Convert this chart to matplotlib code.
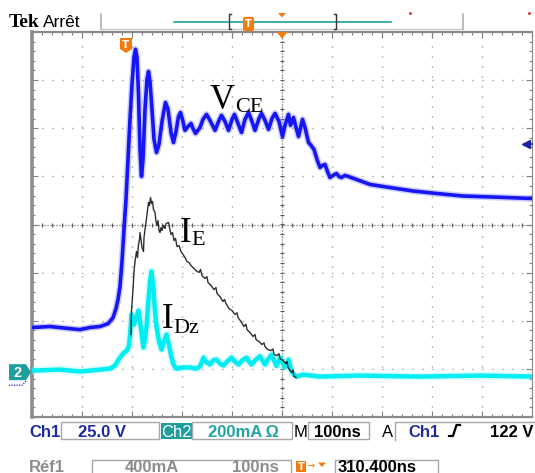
import matplotlib

matplotlib.use("Agg")
import matplotlib.pyplot as plt  # noqa: E402
import numpy as np  # noqa: E402
from matplotlib.patches import Polygon, Rectangle  # noqa: E402

# scope settings
NS_PER_DIV = 100.0
CH1_V_PER_DIV = 25.0
CH2_MA_PER_DIV = 200.0
REF1_MA_PER_DIV = 400.0
CH1_GND_DIV = -3.2      # ch1 ground marker sits under the "2" marker
CH2_GND_DIV = -3.06
TRIG_LEVEL_V = 122.0

# Ch1 : V_CE (V)
vce_t = [0, 36, 76, 96, 116, 136, 152, 162, 168, 172, 176, 180, 184, 188, 192, 196, 200, 204,
         207, 210, 213, 216, 219, 222, 226, 230, 233, 236, 240, 244, 249, 254, 260, 267, 272, 278,
         283, 288, 293, 297, 302, 306, 312, 318, 322, 327, 336, 342, 349, 356, 366, 374, 379, 386,
         393, 400, 405, 412, 419, 426, 433, 440, 446, 454, 459, 466, 473, 480, 486, 494, 501, 506,
         513, 517, 523, 526, 533, 541, 546, 553, 558, 564, 570, 576, 581, 586, 591, 596, 602, 609,
         614, 619, 626, 633, 649, 676, 716, 762, 810, 862, 930, 1000]
vce_v = [26.5, 27.0, 25.9, 25.4, 26.5, 27.0, 28.5, 31.6, 36.3, 41.0, 47.8, 60.8, 77.4, 93.0, 113.8,
         134.6, 152.8, 166.8, 171.0, 166.8, 147.6, 119.0, 105.0, 113.8, 139.8, 155.4, 159.5, 154.3,
         139.8, 124.2, 117.4, 121.6, 133.5, 143.4, 139.8, 127.8, 122.6, 128.3, 136.1, 138.2, 133.5,
         128.9, 130.9, 132.5, 129.9, 127.3, 130.4, 134.6, 137.2, 134.1, 128.9, 134.1, 136.7, 133.5,
         128.9, 134.6, 137.2, 132.5, 127.8, 134.6, 138.2, 133.5, 128.9, 135.1, 137.7, 134.1, 129.4,
         135.1, 137.7, 133.5, 125.7, 131.5, 137.2, 131.5, 135.6, 132.5, 125.7, 134.6, 130.4, 122.6,
         121.1, 119.0, 113.8, 109.6, 110.7, 111.2, 107.5, 104.4, 105.5, 106.5, 104.9, 104.4, 105.5,
         104.9, 103.4, 100.8, 99.2, 97.4, 96.1, 94.8, 94.2, 93.5]

# Ch2 : I_Dz (mA)
idz_t = [0, 56, 96, 136, 156, 166, 176, 184, 190, 194, 197, 199, 202, 204, 208, 213, 216, 223, 226,
         229, 233, 236, 239, 243, 246, 249, 254, 259, 264, 269, 274, 278, 283, 289, 302, 316, 328,
         336, 343, 348, 356, 362, 369, 376, 383, 390, 399, 406, 413, 420, 429, 434, 439, 446, 456,
         461, 466, 472, 479, 484, 489, 493, 496, 501, 506, 509, 513, 516, 519, 524, 529, 542, 576,
         656, 776, 896, 1000]
idz_ma = [5, 9, 1, 9, 13, 26, 59, 80, 88, 109, 176, 238, 217, 196, 225, 254, 209, 101, 134, 188,
          300, 375, 417, 342, 250, 188, 126, 92, 126, 155, 113, 67, 30, 13, 18, 18, 13, 22, 59, 42,
          30, 47, 51, 34, 26, 42, 59, 42, 30, 47, 59, 42, 30, 47, 65, 47, 30, 51, 71, 47, 24, 42,
          59, 38, 18, 34, 51, 26, 2, -12, -20, -12, -20, -16, -20, -16, -20]

# Ref1 : I_E (mA)
ie_t = [198, 199, 202, 204, 206, 209, 211, 213, 215, 216, 218, 220, 223, 224, 226, 228, 230, 233,
        235, 237, 239, 241, 243, 246, 248, 250, 252, 254, 256, 258, 260, 263, 266, 268, 273, 275,
        278, 281, 284, 287, 290, 294, 298, 302, 306, 310, 314, 318, 322, 328, 334, 337, 340, 346,
        350, 352, 358, 364, 368, 370, 376, 382, 385, 388, 394, 400, 406, 410, 412, 418, 424, 428,
        430, 436, 442, 446, 448, 454, 460, 464, 466, 472, 478, 482, 484, 490, 494, 496, 502, 508,
        510, 512, 516, 520, 522, 524, 528]
ie_ma = [309, 509, 683, 833, 916, 999, 950, 1058, 1099, 1157, 1099, 1033, 999, 1116, 1182, 1241,
         1307, 1407, 1382, 1449, 1399, 1415, 1349, 1324, 1249, 1216, 1257, 1174, 1157, 1199, 1174,
         1216, 1191, 1232, 1241, 1199, 1141, 1157, 1091, 1108, 1041, 1049, 999, 975, 950, 916, 908,
         883, 866, 841, 825, 850, 800, 775, 790, 742, 717, 683, 700, 650, 625, 584, 600, 567, 525,
         509, 476, 490, 451, 417, 376, 395, 351, 326, 293, 310, 268, 251, 226, 240, 209, 184, 176,
         190, 143, 135, 150, 110, 93, 68, 85, 35, 10, -7, 15, -40, -48]

W, H = 535, 473
PX_PER_DIV_Y = 48.1
BLUE, CYAN, TEAL, ORANGE = "#1616f4", "#00eef2", "#1f9e9e", "#f07c10"


def to_div(vals, per_div, gnd):
    return np.asarray(vals, dtype=float) / per_div + gnd


def trace(ax, t, y, core, halo, lw, extra, z):
    ax.plot(t, y, color=halo, lw=lw + extra, alpha=0.35, solid_joinstyle="round", zorder=z)
    ax.plot(t, y, color=core, lw=lw, solid_joinstyle="round", zorder=z + 0.1)


fig = plt.figure(figsize=(W / 100, H / 100), dpi=100)
ax = fig.add_axes([32 / W, (H - 417) / H, 500 / W, 385 / H])
ax.set_xlim(0, 10 * NS_PER_DIV)
ax.set_ylim(-4, 4)

# graticule
ax.set_xticks(np.arange(0, 1001, NS_PER_DIV))
ax.set_yticks(np.arange(-4, 5, 1))
ax.set_xticks(np.arange(0, 1001, NS_PER_DIV / 5), minor=True)
ax.set_yticks(np.arange(-4, 4.01, 0.2), minor=True)
ax.tick_params(which="both", direction="in", top=True, right=True, color="#808080",
               labelbottom=False, labelleft=False, width=0.8)
ax.tick_params(which="major", length=4)
ax.tick_params(which="minor", length=2.5)
ax.grid(True, which="major", color="#7a7a7a", lw=1.0, ls=(0, (0.7, 6.5)))
for side in ("top", "bottom"):
    ax.spines[side].set_color("#8a8a8a")
    ax.spines[side].set_linewidth(1.6)
ax.spines["left"].set_color("#8c8c8c")
ax.spines["left"].set_linewidth(2.6)
ax.spines["right"].set_color("#8a8a8a")
ax.spines["right"].set_linewidth(0.8)
ax.axhline(0, color="#555555", lw=0.9, ls=(0, (0.8, 1.6)), zorder=1)
ax.axvline(500, color="#555555", lw=0.9, ls=(0, (0.8, 1.6)), zorder=1)
mt = np.arange(0, 1001, NS_PER_DIV / 5)
mv = np.arange(-4, 4.01, 0.2)
ax.plot(mt, np.zeros_like(mt), ls="none", marker="|", ms=3.5, mew=0.8, color="#555555", zorder=1)
ax.plot(np.full_like(mv, 500), mv, ls="none", marker="_", ms=3.5, mew=0.8, color="#555555", zorder=1)

# traces
trace(ax, idz_t, to_div(idz_ma, CH2_MA_PER_DIV, CH2_GND_DIV), CYAN, "#8ffbff", 3.2, 2.4, 3)
ax.plot(ie_t, to_div(ie_ma, REF1_MA_PER_DIV, CH2_GND_DIV), color="#2e2e2e", lw=1.0, zorder=4)
trace(ax, vce_t, to_div(vce_v, CH1_V_PER_DIV, CH1_GND_DIV), BLUE, "#7070ff", 2.6, 2.2, 5)

# trigger level arrow (right edge)
trig = TRIG_LEVEL_V / CH1_V_PER_DIV + CH1_GND_DIV
ax.plot([985, 1000], [trig, trig], color="#1a22a0", lw=1.2, clip_on=False, zorder=6)
ax.plot([988], [trig], marker="<", ms=6, color="#1a22a0", clip_on=False, zorder=6)

# overlay in pixel coordinates for the scope's chrome
ov = fig.add_axes([0, 0, 1, 1], zorder=5)
ov.set_xlim(0, W)
ov.set_ylim(H, 0)
ov.axis("off")
ov.patch.set_alpha(0)

serif = "Liberation Serif"
sans = "Liberation Sans"
fs = 12

# curve labels
ov.text(210, 108.5, "V", family=serif, fontsize=25, va="baseline")
ov.text(235, 111.5, "CE", family=serif, fontsize=16, va="baseline")
ov.text(180, 241.5, "I", family=serif, fontsize=25, va="baseline")
ov.text(191.5, 245, "E", family=serif, fontsize=16, va="baseline")
ov.text(162, 328, "I", family=serif, fontsize=25, va="baseline")
ov.text(173.5, 332.5, "Dz", family=serif, fontsize=16, va="baseline")

# top status bar
ov.text(9, 27, "Tek", family=serif, fontsize=14, weight="bold", va="baseline")
ov.text(43, 27, "Arrêt", family=sans, fontsize=12.5, va="baseline")
ov.plot([101, 463], [29.5, 29.5], color="#c8c8c8", lw=1)
ov.plot([101, 101], [14, 29.5], color="#b0b0b0", lw=1.2)
ov.plot([463, 463], [14, 29.5], color="#b0b0b0", lw=1.2)
ov.plot([174, 391], [22, 22], color=TEAL, lw=1.2)
ov.plot([231, 229, 229, 231], [14.5, 14.5, 29, 29], color="#333333", lw=1)
ov.plot([334, 336, 336, 334], [14.5, 14.5, 29, 29], color="#333333", lw=1)
ov.text(248.5, 24, "T", color="white", fontsize=7, weight="bold", ha="center", va="center",
        bbox=dict(boxstyle="round,pad=0.15", fc=ORANGE, ec=ORANGE))
ov.add_patch(Polygon([(278, 13), (286, 13), (282, 17.5)], closed=True, fc=ORANGE, ec="none"))
ov.add_patch(Polygon([(276.5, 32), (287.5, 32), (282, 38.5)], closed=True, fc=ORANGE, ec="none"))
ov.plot([410, 529], [13, 13], ls="none", marker="s", ms=1, color="#e03030")

# trigger position marker on the graticule
ov.add_patch(Polygon([(120, 38), (132, 38), (132, 49), (126, 53), (120, 49)], closed=True,
                     fc=ORANGE, ec="none"))
ov.text(126, 45, "T", color="white", fontsize=7.5, weight="bold", ha="center", va="center")

# channel 2 ground marker
gnd2_px = 225 - CH2_GND_DIV * PX_PER_DIV_Y
ov.add_patch(Polygon([(9, gnd2_px - 8), (26, gnd2_px - 8), (31, gnd2_px), (26, gnd2_px + 8),
                      (9, gnd2_px + 8)], closed=True, fc=TEAL, ec="none"))
ov.text(17.5, gnd2_px + 0.5, "2", color="white", fontsize=10.5, weight="bold", ha="center",
        va="center", family=sans)
ov.plot([9, 22, 26], [gnd2_px + 13, gnd2_px + 13, gnd2_px + 9], color="#2030c0", lw=0.9,
        ls=(0, (1, 1)))

# bottom status line 1
box_ec = "#a8a8a8"
ov.text(29, 437, "Ch1", color="#1d2a9e", family=sans, weight="bold", fontsize=fs, va="baseline")
ov.add_patch(Rectangle((61, 422), 98, 17, fc="none", ec=box_ec, lw=1))
ov.text(78, 437, "25.0 V", color="#1d2a9e", family=sans, weight="bold", fontsize=fs,
        va="baseline")
ov.add_patch(Rectangle((160.5, 423), 31.5, 16, fc=TEAL, ec="none"))
ov.text(161.5, 437, "Ch2", color="white", family=sans, fontsize=fs, va="baseline")
ov.add_patch(Rectangle((192, 422), 100, 17, fc="none", ec=box_ec, lw=1))
ov.text(208, 437, "200mA\u2009Ω", color="#22a3a3", family=sans, weight="bold", fontsize=fs,
        va="baseline")
ov.text(294, 437, "M", color="black", family=sans, fontsize=fs, va="baseline")
ov.add_patch(Rectangle((307.5, 422), 61, 17, fc="none", ec=box_ec, lw=1))
ov.text(314, 437, "100ns", color="black", family=sans, weight="bold", fontsize=fs,
        va="baseline")
ov.text(382, 437, "A", color="black", family=sans, fontsize=fs, va="baseline")
ov.plot([395, 395, 535], [440, 422, 422], color=box_ec, lw=1)
ov.text(408, 437, "Ch1", color="#1d2a9e", family=sans, weight="bold", fontsize=fs,
        va="baseline")
ov.plot([449, 453, 456.5, 460], [436, 436, 425, 425], color="black", lw=1.6)
ov.text(533, 437, "122 V", color="black", family=sans, weight="bold", fontsize=fs,
        ha="right", va="baseline")

# bottom status line 2
ov.text(29, 471.5, "Réf1", color="#8c8c8c", family=sans, weight="bold", fontsize=fs,
        va="baseline")
ov.plot([92, 92, 291, 291], [474, 460, 460, 474], color=box_ec, lw=1)
ov.text(125, 471.5, "400mA", color="#8c8c8c", family=sans, weight="bold", fontsize=fs,
        va="baseline")
ov.text(232, 471.5, "100ns", color="#8c8c8c", family=sans, weight="bold", fontsize=fs,
        va="baseline")
ov.add_patch(Rectangle((296, 461), 10, 11, fc=ORANGE, ec="none"))
ov.text(301, 466.5, "T", color="white", fontsize=7, weight="bold", ha="center", va="center")
ov.text(306.5, 466.5, "→", color=ORANGE, fontsize=7, va="center")
ov.add_patch(Polygon([(318, 462.5), (326, 462.5), (322, 467)], closed=True, fc=ORANGE, ec="none"))
ov.plot([335, 335, 438, 438], [474, 460, 460, 474], color=box_ec, lw=1)
ov.text(338, 471.5, "310.400ns", color="black", family=sans, weight="bold", fontsize=fs,
        va="baseline")

fig.savefig("out.png", dpi=100)
